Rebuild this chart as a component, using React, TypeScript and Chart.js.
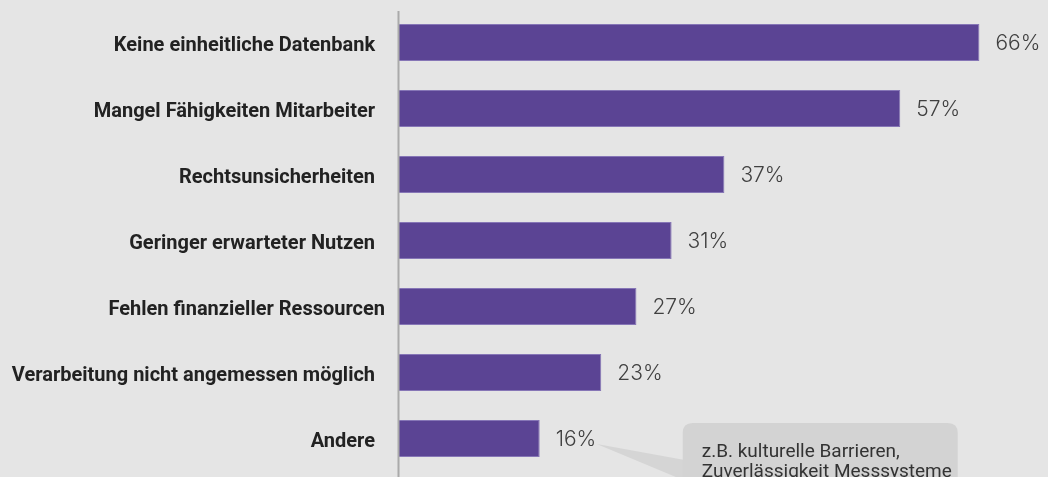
import React, { useEffect, useRef } from "react";
import { Chart, registerables } from "chart.js";

Chart.register(...registerables);

const categories = [
  "Keine einheitliche Datenbank\u00a0\u00a0",
  "Mangel Fähigkeiten Mitarbeiter\u00a0\u00a0",
  "Rechtsunsicherheiten\u00a0\u00a0",
  "Geringer erwarteter Nutzen\u00a0\u00a0",
  "Fehlen finanzieller Ressourcen",
  "Verarbeitung nicht angemessen möglich\u00a0\u00a0",
  "Andere\u00a0\u00a0",
];
const values = [66, 57, 37, 31, 27, 23, 16];
const valueLabels = ["66%", "57%", "37%", "31%", "27%", "23%", "16%"];
const calloutLines = ["z.B. kulturelle Barrieren,", "Zuverlässigkeit Messsysteme"];

const BG = "#e5e5e5";
const BAR = "#5b4494";
const BAR_EDGE = "#8676b6";

export default function App() {
  const ref = useRef<HTMLCanvasElement>(null);

  useEffect(() => {
    const canvas = ref.current!;

    const bgPlugin = {
      id: "bg",
      beforeDraw(chart: any) {
        const { ctx, width, height } = chart;
        ctx.save();
        ctx.fillStyle = BG;
        ctx.fillRect(0, 0, width, height);
        ctx.restore();
      },
    };

    const overlay = {
      id: "overlay",
      afterDatasetsDraw(chart: any) {
        const ctx = chart.ctx as CanvasRenderingContext2D;
        const xs = chart.scales.x;
        const ys = chart.scales.y;
        const x0 = xs.getPixelForValue(0);

        ctx.save();
        // value labels
        ctx.font = "300 21px Inter";
        ctx.fillStyle = "#404040";
        ctx.textAlign = "left";
        ctx.textBaseline = "alphabetic";
        values.forEach((v, i) => {
          const px = xs.getPixelForValue(v) + 16;
          const py = ys.getPixelForValue(i) + 7.5;
          ctx.fillText(valueLabels[i], px, py);
        });

        // callout
        const last = values.length - 1;
        const tipX = xs.getPixelForValue(values[last]) + 57;
        const tipY = ys.getPixelForValue(last) + 5.5;
        const boxL = tipX + 86;
        const boxT = tipY - 21;
        const boxR = boxL + 275;
        const boxB = chart.height + 20;
        const r = 10;

        ctx.fillStyle = "#d5d5d5";
        ctx.beginPath();
        ctx.moveTo(tipX, tipY);
        ctx.lineTo(boxL + 2, tipY + 16);
        ctx.lineTo(boxL + 10, tipY + 40);
        ctx.closePath();
        ctx.fill();

        ctx.fillStyle = "#d3d3d3";
        ctx.beginPath();
        ctx.moveTo(boxL + r, boxT);
        ctx.lineTo(boxR - r, boxT);
        ctx.quadraticCurveTo(boxR, boxT, boxR, boxT + r);
        ctx.lineTo(boxR, boxB);
        ctx.lineTo(boxL, boxB);
        ctx.lineTo(boxL, boxT + r);
        ctx.quadraticCurveTo(boxL, boxT, boxL + r, boxT);
        ctx.closePath();
        ctx.fill();

        ctx.font = "19px Roboto";
        ctx.fillStyle = "#333333";
        ctx.fillText(calloutLines[0], boxL + 19, boxT + 34);
        ctx.fillText(calloutLines[1], boxL + 19, boxT + 53.5);

        // axis line
        ctx.strokeStyle = "#aaaaaa";
        ctx.lineWidth = 2;
        ctx.beginPath();
        ctx.moveTo(x0 - 0.5, chart.chartArea.top + 1.5);
        ctx.lineTo(x0 - 0.5, chart.height);
        ctx.stroke();
        ctx.restore();
      },
    };

    const chart = new Chart(canvas, {
      type: "bar",
      data: {
        labels: categories,
        datasets: [
          {
            data: values,
            backgroundColor: BAR,
            borderColor: BAR_EDGE,
            borderWidth: 1,
            borderSkipped: "left",
            barPercentage: 37 / 66,
            categoryPercentage: 1,
          },
        ],
      },
      options: {
        indexAxis: "y",
        responsive: false,
        animation: false,
        layout: { padding: { top: 9.5, bottom: 5.5, left: 0, right: 0 } },
        plugins: { legend: { display: false }, tooltip: { enabled: false } },
        scales: {
          x: { display: false, min: 0, max: 73.8 },
          y: {
            afterFit(scale: any) {
              scale.width = 399;
              scale.paddingTop = 0;
              scale.paddingBottom = 0;
            },
            grid: { display: false, drawTicks: false },
            border: { display: false },
            ticks: {
              padding: 14,
              labelOffset: 3.5,
              color: "#222222",
              font: { family: "Roboto", weight: "bold", size: 20 },
            },
          },
        },
      },
      plugins: [bgPlugin, overlay],
    });

    return () => chart.destroy();
  }, []);

  return (
    <canvas
      ref={ref}
      width={1048}
      height={477}
      style={{ position: "fixed", left: 0, top: 0, width: 1048, height: 477, display: "block" }}
    />
  );
}
